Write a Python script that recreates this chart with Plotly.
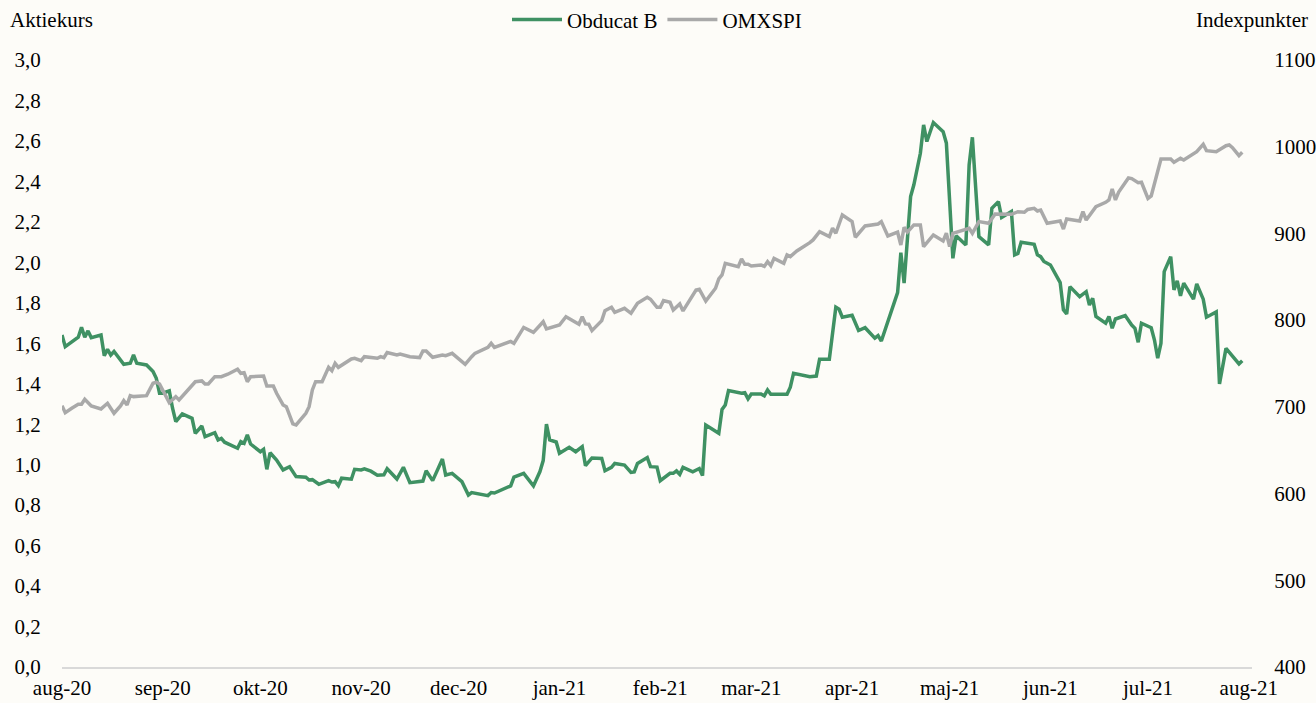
import plotly.graph_objects as go

# ---------------- data ----------------
obducat_dates = [
    "2020-08-01", "2020-08-02", "2020-08-06", "2020-08-07", "2020-08-08", "2020-08-09", "2020-08-10",
    "2020-08-13", "2020-08-14", "2020-08-15", "2020-08-16", "2020-08-17", "2020-08-20", "2020-08-22",
    "2020-08-23", "2020-08-24", "2020-08-27", "2020-08-29", "2020-08-30", "2020-08-31", "2020-09-01",
    "2020-09-03", "2020-09-04", "2020-09-05", "2020-09-07", "2020-09-10", "2020-09-11", "2020-09-13",
    "2020-09-14", "2020-09-17", "2020-09-18", "2020-09-19", "2020-09-20", "2020-09-24", "2020-09-25",
    "2020-09-26", "2020-09-27", "2020-09-28", "2020-10-01", "2020-10-02", "2020-10-03", "2020-10-04",
    "2020-10-06", "2020-10-08", "2020-10-10", "2020-10-12", "2020-10-15", "2020-10-16", "2020-10-17",
    "2020-10-19", "2020-10-22", "2020-10-23", "2020-10-24", "2020-10-25", "2020-10-26", "2020-10-29",
    "2020-10-30", "2020-11-01", "2020-11-02", "2020-11-04", "2020-11-06", "2020-11-08", "2020-11-09",
    "2020-11-12", "2020-11-14", "2020-11-16", "2020-11-20", "2020-11-21", "2020-11-23", "2020-11-26",
    "2020-11-27", "2020-11-29", "2020-12-02", "2020-12-04", "2020-12-05", "2020-12-10", "2020-12-11",
    "2020-12-12", "2020-12-17", "2020-12-18", "2020-12-21", "2020-12-24", "2020-12-26", "2020-12-27",
    "2020-12-28", "2020-12-29", "2020-12-31", "2021-01-01", "2021-01-04", "2021-01-06", "2021-01-08",
    "2021-01-09", "2021-01-11", "2021-01-14", "2021-01-15", "2021-01-17", "2021-01-18", "2021-01-21",
    "2021-01-23", "2021-01-24", "2021-01-25", "2021-01-28", "2021-01-29", "2021-01-31", "2021-02-01",
    "2021-02-04", "2021-02-05", "2021-02-06", "2021-02-07", "2021-02-08", "2021-02-11", "2021-02-13",
    "2021-02-14", "2021-02-15", "2021-02-19", "2021-02-20", "2021-02-21", "2021-02-22", "2021-02-26",
    "2021-02-27", "2021-02-28", "2021-03-01", "2021-03-04", "2021-03-05", "2021-03-06", "2021-03-07",
    "2021-03-12", "2021-03-13", "2021-03-14", "2021-03-19", "2021-03-21", "2021-03-22", "2021-03-25",
    "2021-03-27", "2021-03-28", "2021-03-29", "2021-04-01", "2021-04-03", "2021-04-05", "2021-04-08",
    "2021-04-09", "2021-04-10", "2021-04-15", "2021-04-16", "2021-04-17", "2021-04-19", "2021-04-20",
    "2021-04-22", "2021-04-23", "2021-04-24", "2021-04-26", "2021-04-29", "2021-04-30", "2021-05-02",
    "2021-05-03", "2021-05-06", "2021-05-07", "2021-05-08", "2021-05-10", "2021-05-13", "2021-05-14",
    "2021-05-16", "2021-05-17", "2021-05-20", "2021-05-21", "2021-05-22", "2021-05-23", "2021-05-27",
    "2021-05-28", "2021-05-29", "2021-05-30", "2021-06-01", "2021-06-04", "2021-06-05", "2021-06-06",
    "2021-06-07", "2021-06-10", "2021-06-12", "2021-06-13", "2021-06-14", "2021-06-15", "2021-06-18",
    "2021-06-19", "2021-06-20", "2021-06-21", "2021-06-24", "2021-06-26", "2021-06-27", "2021-06-28",
    "2021-06-29", "2021-07-02", "2021-07-03", "2021-07-04", "2021-07-05", "2021-07-06", "2021-07-08",
    "2021-07-09", "2021-07-10", "2021-07-11", "2021-07-12", "2021-07-15", "2021-07-16", "2021-07-18",
    "2021-07-19", "2021-07-22", "2021-07-23", "2021-07-25", "2021-07-27", "2021-07-29", "2021-07-30",
]
obducat_values = [
    1.641, 1.583, 1.630, 1.679, 1.630, 1.661, 1.628,
    1.641, 1.539, 1.570, 1.542, 1.559, 1.496, 1.501,
    1.542, 1.501, 1.493, 1.460, 1.427, 1.353, 1.353,
    1.365, 1.279, 1.213, 1.251, 1.229, 1.155, 1.191,
    1.138, 1.158, 1.122, 1.130, 1.111, 1.081, 1.114,
    1.106, 1.147, 1.102, 1.064, 1.076, 0.977, 1.059,
    1.023, 0.974, 0.990, 0.941, 0.938, 0.924, 0.926,
    0.903, 0.921, 0.914, 0.916, 0.896, 0.933, 0.928,
    0.977, 0.974, 0.979, 0.968, 0.948, 0.950, 0.980,
    0.929, 0.987, 0.911, 0.919, 0.970, 0.921, 1.028,
    0.949, 0.957, 0.916, 0.850, 0.862, 0.847, 0.862,
    0.860, 0.895, 0.938, 0.957, 0.895, 0.966, 1.020,
    1.200, 1.122, 1.112, 1.056, 1.086, 1.064, 1.089,
    0.995, 1.033, 1.031, 0.970, 0.987, 1.006, 0.998,
    0.962, 0.964, 1.006, 1.035, 0.990, 0.988, 0.921,
    0.957, 0.957, 0.969, 0.952, 0.987, 0.965, 0.981,
    0.946, 1.196, 1.155, 1.273, 1.295, 1.366, 1.353,
    1.356, 1.325, 1.349, 1.349, 1.340, 1.369, 1.348,
    1.348, 1.383, 1.452, 1.435, 1.438, 1.521, 1.521,
    1.778, 1.768, 1.729, 1.738, 1.663, 1.677, 1.625,
    1.638, 1.611, 1.850, 2.048, 1.897, 2.325, 2.383,
    2.539, 2.679, 2.597, 2.691, 2.646, 2.589, 2.020,
    2.131, 2.086, 2.481, 2.618, 2.127, 2.086, 2.267,
    2.300, 2.222, 2.251, 2.037, 2.044, 2.099, 2.089,
    2.037, 2.028, 2.004, 1.987, 1.900, 1.765, 1.745,
    1.880, 1.830, 1.855, 1.789, 1.822, 1.732, 1.699,
    1.732, 1.674, 1.720, 1.737, 1.690, 1.674, 1.605,
    1.699, 1.677, 1.616, 1.526, 1.600, 1.954, 2.028,
    1.864, 1.909, 1.834, 1.897, 1.818, 1.893, 1.818,
    1.729, 1.755, 1.399, 1.575, 1.534, 1.498, 1.514,
]

omx_dates = [
    "2020-08-01", "2020-08-02", "2020-08-04", "2020-08-06", "2020-08-07", "2020-08-08", "2020-08-10",
    "2020-08-13", "2020-08-15", "2020-08-17", "2020-08-19", "2020-08-20", "2020-08-21", "2020-08-22",
    "2020-08-23", "2020-08-27", "2020-08-29", "2020-08-30", "2020-08-31", "2020-09-03", "2020-09-05",
    "2020-09-06", "2020-09-11", "2020-09-13", "2020-09-14", "2020-09-15", "2020-09-17", "2020-09-19",
    "2020-09-21", "2020-09-24", "2020-09-25", "2020-09-26", "2020-09-27", "2020-09-28", "2020-10-02",
    "2020-10-03", "2020-10-05", "2020-10-06", "2020-10-08", "2020-10-09", "2020-10-11", "2020-10-12",
    "2020-10-15", "2020-10-16", "2020-10-17", "2020-10-18", "2020-10-20", "2020-10-22", "2020-10-23",
    "2020-10-24", "2020-10-25", "2020-10-29", "2020-10-30", "2020-11-01", "2020-11-02", "2020-11-06",
    "2020-11-07", "2020-11-08", "2020-11-09", "2020-11-12", "2020-11-13", "2020-11-16", "2020-11-19",
    "2020-11-20", "2020-11-21", "2020-11-23", "2020-11-26", "2020-11-27", "2020-11-29", "2020-12-03",
    "2020-12-05", "2020-12-06", "2020-12-10", "2020-12-11", "2020-12-12", "2020-12-17", "2020-12-18",
    "2020-12-21", "2020-12-24", "2020-12-27", "2020-12-28", "2021-01-01", "2021-01-03", "2021-01-07",
    "2021-01-08", "2021-01-09", "2021-01-10", "2021-01-11", "2021-01-14", "2021-01-15", "2021-01-17",
    "2021-01-18", "2021-01-21", "2021-01-23", "2021-01-25", "2021-01-28", "2021-01-29", "2021-01-31",
    "2021-02-01", "2021-02-02", "2021-02-04", "2021-02-05", "2021-02-07", "2021-02-08", "2021-02-12",
    "2021-02-13", "2021-02-15", "2021-02-18", "2021-02-19", "2021-02-20", "2021-02-21", "2021-02-25",
    "2021-02-26", "2021-02-27", "2021-02-28", "2021-03-01", "2021-03-04", "2021-03-05", "2021-03-06",
    "2021-03-07", "2021-03-08", "2021-03-11", "2021-03-12", "2021-03-13", "2021-03-15", "2021-03-16",
    "2021-03-19", "2021-03-20", "2021-03-22", "2021-03-25", "2021-03-26", "2021-03-27", "2021-03-29",
    "2021-04-01", "2021-04-02", "2021-04-05", "2021-04-09", "2021-04-10", "2021-04-11", "2021-04-12",
    "2021-04-15", "2021-04-16", "2021-04-17", "2021-04-18", "2021-04-20", "2021-04-22", "2021-04-23",
    "2021-04-26", "2021-04-29", "2021-04-30", "2021-05-01", "2021-05-02", "2021-05-07", "2021-05-08",
    "2021-05-10", "2021-05-13", "2021-05-15", "2021-05-18", "2021-05-20", "2021-05-22", "2021-05-24",
    "2021-05-25", "2021-05-27", "2021-05-28", "2021-05-29", "2021-05-31", "2021-06-04", "2021-06-05",
    "2021-06-06", "2021-06-10", "2021-06-11", "2021-06-12", "2021-06-15", "2021-06-18", "2021-06-19",
    "2021-06-20", "2021-06-21", "2021-06-22", "2021-06-25", "2021-06-26", "2021-06-28", "2021-06-29",
    "2021-07-01", "2021-07-02", "2021-07-05", "2021-07-08", "2021-07-09", "2021-07-11", "2021-07-12",
    "2021-07-16", "2021-07-18", "2021-07-19", "2021-07-22", "2021-07-25", "2021-07-26", "2021-07-27",
    "2021-07-29", "2021-07-30",
]
omx_values = [
    701.4, 693.3, 698.4, 703.0, 703.0, 708.8, 701.0,
    697.6, 704.1, 692.6, 701.0, 707.1, 702.2, 712.9,
    711.8, 712.9, 727.2, 728.4, 726.4, 704.8, 711.8,
    708.0, 729.0, 729.9, 726.4, 726.4, 734.8, 734.8,
    737.6, 743.3, 738.7, 739.4, 729.0, 734.8, 735.6,
    724.1, 724.1, 715.7, 702.2, 700.2, 680.3, 679.1,
    692.6, 700.2, 719.5, 729.0, 729.0, 745.6, 741.7,
    750.2, 745.6, 755.2, 756.0, 753.3, 757.9, 756.0,
    757.9, 756.8, 762.6, 759.8, 761.0, 757.9, 756.8,
    764.5, 764.5, 757.2, 759.8, 759.0, 761.7, 749.1,
    757.9, 761.7, 768.6, 773.2, 768.6, 775.5, 773.2,
    791.6, 785.9, 798.2, 789.8, 794.4, 804.0, 795.3,
    804.0, 795.6, 795.3, 787.9, 799.4, 810.9, 814.8,
    809.1, 813.7, 807.9, 819.5, 826.4, 824.1, 814.8,
    814.8, 822.5, 820.6, 811.7, 818.7, 810.6, 834.8,
    835.6, 822.1, 836.8, 847.5, 852.1, 865.6, 861.7,
    870.6, 864.4, 864.4, 862.5, 863.6, 862.0, 867.4,
    862.8, 871.3, 865.6, 875.2, 873.3, 879.8, 882.1,
    889.4, 892.5, 902.1, 896.3, 906.0, 900.2, 921.3,
    913.6, 895.6, 908.6, 910.9, 913.6, 906.0, 897.1,
    901.4, 886.7, 907.1, 901.4, 909.8, 909.8, 884.7,
    898.2, 891.3, 900.2, 884.7, 900.2, 906.0, 900.2,
    913.6, 911.7, 922.5, 922.5, 922.1, 925.1, 924.4,
    927.7, 928.9, 925.9, 927.0, 911.7, 914.4, 905.1,
    916.7, 914.4, 925.1, 915.5, 930.9, 935.9, 938.6,
    951.3, 938.6, 947.8, 964.0, 963.3, 958.5, 959.0,
    940.4, 943.2, 985.9, 985.9, 982.1, 986.6, 984.7,
    994.3, 1002.8, 995.5, 994.3, 1001.2, 1002.0, 998.9,
    989.7, 993.5,
]

month_ticks = ["2020-08-01", "2020-09-01", "2020-10-01", "2020-11-01", "2020-12-01",
               "2021-01-01", "2021-02-01", "2021-03-01", "2021-04-01", "2021-05-01",
               "2021-06-01", "2021-07-01", "2021-08-01"]
month_labels = ["aug-20", "sep-20", "okt-20", "nov-20", "dec-20", "jan-21", "feb-21",
                "mar-21", "apr-21", "maj-21", "jun-21", "jul-21", "aug-21"]
left_ticks = [0.0, 0.2, 0.4, 0.6, 0.8, 1.0, 1.2, 1.4, 1.6, 1.8, 2.0, 2.2, 2.4, 2.6, 2.8, 3.0]
left_labels = [f"{v:.1f}".replace(".", ",") for v in left_ticks]
right_ticks = [400, 500, 600, 700, 800, 900, 1000, 1100]

# ---------------- styling ----------------
BG = "#FDFCF8"
GREEN = "#3F9163"
GREY = "#A9A9A9"
FONT = "Liberation Serif, Times New Roman, serif"
FS = 21

fig = go.Figure()
fig.add_trace(go.Scatter(x=obducat_dates, y=obducat_values, name="Obducat B",
                         mode="lines", line=dict(color=GREEN, width=3.5), yaxis="y"))
fig.add_trace(go.Scatter(x=omx_dates, y=omx_values, name="OMXSPI",
                         mode="lines", line=dict(color=GREY, width=3.5), yaxis="y2"))

fig.update_layout(
    width=1316, height=703,
    paper_bgcolor=BG, plot_bgcolor=BG,
    margin=dict(l=62, r=64, t=60, b=36, autoexpand=False),
    font=dict(family=FONT, size=FS, color="#000000"),
    showlegend=True,
    legend=dict(orientation="h", x=0.5, xanchor="center", y=1.066, yanchor="middle",
                yref="paper", font=dict(family=FONT, size=FS), bgcolor="rgba(0,0,0,0)",
                itemwidth=50, tracegroupgap=0),
    xaxis=dict(type="date", range=["2020-08-01", "2021-08-02"],
               tickvals=month_ticks, ticktext=month_labels, automargin=False,
               showgrid=False, zeroline=False,
               showline=True, linecolor="#D9D9D9", linewidth=2,
               ticks="outside", ticklen=1, tickcolor="rgba(0,0,0,0)",
               tickfont=dict(family=FONT, size=FS)),
    yaxis=dict(range=[0, 3.0], tickvals=left_ticks, ticktext=left_labels, automargin=False,
               showgrid=False, zeroline=False, showline=False,
               ticks="outside", ticklen=16, tickcolor="rgba(0,0,0,0)",
               tickfont=dict(family=FONT, size=FS)),
    yaxis2=dict(range=[400, 1100], tickvals=right_ticks, overlaying="y", side="right",
                automargin=False,
                showgrid=False, zeroline=False, showline=False,
                ticks="outside", ticklen=17, tickcolor="rgba(0,0,0,0)",
                tickfont=dict(family=FONT, size=FS)),
    annotations=[
        dict(text="Aktiekurs", xref="paper", yref="paper", x=-62/1190, y=1.0,
             xanchor="left", yanchor="bottom", yshift=26, xshift=8, showarrow=False,
             font=dict(family=FONT, size=FS)),
        dict(text="Indexpunkter", xref="paper", yref="paper", x=1.0, y=1.0,
             xanchor="right", yanchor="bottom", yshift=26, xshift=58, showarrow=False,
             font=dict(family=FONT, size=FS)),
    ],
)

fig.write_html("out.html", config={"displayModeBar": False},
               post_script="document.body.style.margin='0';")
